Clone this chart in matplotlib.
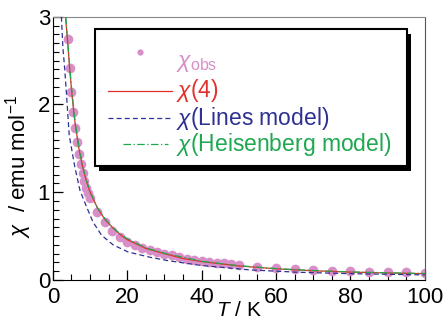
import matplotlib
matplotlib.use("Agg")
import matplotlib.pyplot as plt
from matplotlib.patches import Rectangle
from matplotlib.lines import Line2D

plt.rcParams['font.family'] = ['Liberation Sans', 'DejaVu Sans']
plt.rcParams['mathtext.fontset'] = 'custom'
plt.rcParams['mathtext.rm'] = 'Liberation Sans'
plt.rcParams['mathtext.it'] = 'Liberation Sans:italic'

# measured susceptibility (T in K, chi in emu/mol)
T_obs = [4, 4.5, 5, 5.5, 6, 6.5, 7, 7.5, 8, 8.5, 9, 9.5, 10,
         12, 14, 16, 18, 20, 22, 24, 26, 28, 30, 32, 34, 36, 38, 40,
         42, 44, 46, 48, 50, 55, 60, 65, 70, 75, 80, 85, 90, 95, 100]
chi_obs = [2.75, 2.42, 2.14, 1.91, 1.73, 1.57, 1.44, 1.32, 1.22, 1.13, 1.05, 0.99, 0.94,
           0.77, 0.66, 0.56, 0.49, 0.43, 0.40, 0.37, 0.34, 0.32, 0.30, 0.28, 0.26, 0.24, 0.23, 0.22,
           0.21, 0.19, 0.19, 0.18, 0.17, 0.145, 0.133, 0.125, 0.114, 0.106, 0.10, 0.095, 0.09, 0.088, 0.08]

# chi(4) curve
T_4 = [3.4, 4, 4.5, 5, 5.5, 6, 7, 8, 9, 10, 12, 14, 16, 18, 20, 25, 30, 35, 40, 50, 60, 70, 80, 90, 100]
chi_4 = [3.0, 2.7, 2.42, 2.18, 1.96, 1.78, 1.5, 1.29, 1.13, 1.0, 0.82, 0.69, 0.6, 0.52, 0.46,
         0.36, 0.30, 0.245, 0.21, 0.16, 0.127, 0.105, 0.09, 0.08, 0.072]

# Lines model curve
T_lines = [2.3, 2.7, 3.2, 3.7, 4.4, 5.9, 7.3, 9.1, 10.8, 13.1, 16.2, 20.2, 26, 31, 40, 53, 66, 80, 100]
chi_lines = [3.0, 2.65, 2.4, 2.1, 1.65, 1.29, 1.02, 0.83, 0.66, 0.51, 0.40, 0.32, 0.26, 0.22,
             0.165, 0.115, 0.088, 0.072, 0.058]

# Heisenberg model curve
T_heis = [3.5, 4, 4.5, 5, 6, 7, 8, 9, 10, 12, 14, 16, 18, 20, 25, 30, 40, 50, 60, 70, 80, 90, 100]
chi_heis = [3.0, 2.72, 2.45, 2.2, 1.8, 1.52, 1.3, 1.14, 1.01, 0.82, 0.7, 0.6, 0.53, 0.47,
            0.365, 0.305, 0.213, 0.163, 0.13, 0.108, 0.092, 0.082, 0.074]

pink = '#d88fc8'
red = '#e2312b'
navy = '#2e3192'
green = '#1fa84f'

fig = plt.figure(figsize=(4.44, 3.25), dpi=100)
ax = fig.add_axes([0.119, 0.1385, 0.838, 0.81])

ax.plot(T_obs, chi_obs, 'o', color=pink, markersize=7, markeredgewidth=0, zorder=2)
ax.plot(T_4, chi_4, '-', color=red, lw=0.9, zorder=3)
ax.plot(T_lines, chi_lines, '--', color=navy, lw=0.9, dashes=(4, 2.5), zorder=3)
ax.plot(T_heis, chi_heis, '-.', color=green, lw=0.9, dashes=(6, 2, 1, 2), zorder=3)

ax.set_xlim(0, 100)
ax.set_ylim(0, 3)
ax.set_xticks([0, 20, 40, 60, 80, 100])
ax.set_yticks([0, 1, 2, 3])
ax.set_xticks(range(0, 101, 5), minor=True)
ax.set_yticks([i / 10 for i in range(31)], minor=True)
ax.tick_params(which='major', direction='in', length=7, width=0.9, labelsize=16, pad=2)
ax.tick_params(axis='x', which='major', pad=5)
ax.tick_params(which='minor', direction='in', length=4, width=0.8)
ax.spines['top'].set_color('#888888')
ax.spines['right'].set_color('#555555')

ax.set_xlabel('$T$ / K', fontsize=15, labelpad=-5)
ax.set_ylabel(r'$\chi$  / emu mol$^{-1}$', fontsize=16)
ax.yaxis.set_label_coords(-0.05, 0.43)


def fy(y):
    return 1 - y / 325


def fx(x):
    return x / 444


# legend box with a shadow (pixel positions measured on the picture)
shadow = Rectangle((fx(99), fy(171)), fx(312), 137 / 325, transform=fig.transFigure,
                   facecolor='black', edgecolor='none', zorder=4)
box = Rectangle((fx(95), fy(166)), fx(312), 137 / 325, transform=fig.transFigure,
                facecolor='white', edgecolor='black', lw=1.5, zorder=5)
fig.patches.extend([shadow, box])

tf = fig.transFigure
fig.lines.append(Line2D([fx(140)], [fy(52)], marker='o', color=pink, markersize=4.5,
                        markeredgewidth=0, transform=tf, zorder=6))
fig.lines.append(Line2D([fx(108), fx(172)], [fy(90.5), fy(90.5)], color=red, lw=0.9,
                        transform=tf, zorder=6))
fig.lines.append(Line2D([fx(108), fx(172)], [fy(117.5), fy(117.5)], color=navy, lw=0.9,
                        dashes=(4, 2.5), transform=tf, zorder=6))
fig.lines.append(Line2D([fx(123), fx(168)], [fy(144), fy(144)], color=green, lw=0.9,
                        dashes=(6, 2, 1, 2), transform=tf, zorder=6))

fs = 16.5
fig.text(fx(176), fy(62), r'$\chi_{\rm obs}$', color=pink, fontsize=fs, va='center', zorder=6)
fig.text(fx(176), fy(91), r'$\chi$(4)', color=red, fontsize=fs, va='center', zorder=6)
fig.text(fx(176), fy(118), r'$\chi$(Lines model)', color=navy, fontsize=fs, va='center', zorder=6)
fig.text(fx(176), fy(144), r'$\chi$(Heisenberg model)', color=green, fontsize=fs, va='center', zorder=6)

fig.savefig('out.png', dpi=100)
